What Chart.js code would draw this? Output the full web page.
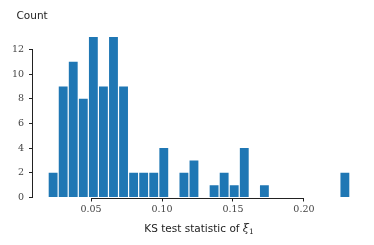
<!DOCTYPE html>
<html>
<head>
<meta charset="utf-8">
<script src="https://cdn.jsdelivr.net/npm/chart.js@4"></script>
<style>
  html, body { margin: 0; padding: 0; background: #fff; }
  #wrap { width: 374px; height: 245px; }
</style>
</head>
<body>
<div id="wrap"><canvas id="chart" width="374" height="245"></canvas></div>
<script>
// histogram of KS statistic, 30 bins
const binLo = 0.0197
const binHi = 0.2324
const counts = [2, 9, 11, 8, 13, 9, 13, 9, 2, 2, 2, 4, 0, 2, 3, 0, 1, 2, 1, 4, 0, 1, 0, 0, 0, 0, 0, 0, 0, 2]
const xTicks = [0.05, 0.10, 0.15, 0.20]
const yTicks = [0, 2, 4, 6, 8, 10, 12]

const binW = (binHi - binLo) / counts.length
const pad = (binHi - binLo) * 0.05
const points = counts.map((c, i) => ({ x: binLo + binW * (i + 0.5), y: c }))

const tickFont = { family: 'DejaVu Serif', size: 9.5 }

// trimmed spines + axis labels drawn by hand
const spines = {
  id: 'spines',
  afterDraw(chart) {
    const { ctx, scales: { x, y } } = chart
    ctx.save()
    ctx.strokeStyle = '#222'
    ctx.lineWidth = 1
    const x0 = x.getPixelForValue(xTicks[0]), x1 = x.getPixelForValue(xTicks[xTicks.length - 1])
    const y0 = y.getPixelForValue(yTicks[0]), y1 = y.getPixelForValue(yTicks[yTicks.length - 1])
    const bx = Math.round(chart.chartArea.bottom) + 0.5
    const lx = Math.round(chart.chartArea.left) - 0.5
    ctx.beginPath()
    ctx.moveTo(x0, bx); ctx.lineTo(x1, bx)
    ctx.moveTo(lx, y0); ctx.lineTo(lx, y1)
    ctx.stroke()

    ctx.fillStyle = '#222'
    ctx.font = '10.5px "DejaVu Sans"'
    ctx.textBaseline = 'alphabetic'
    ctx.textAlign = 'left'
    ctx.fillText('Count', 16.5, 19)

    // x label with greek + subscript
    const main = 'KS test statistic of '
    ctx.font = '10.5px "DejaVu Sans"'
    const w1 = ctx.measureText(main).width
    ctx.font = 'italic 11px "DejaVu Serif"'
    const w2 = ctx.measureText('ξ').width
    ctx.font = '7.5px "DejaVu Serif"'
    const w3 = ctx.measureText('1').width
    const cx = (chart.chartArea.left + chart.chartArea.right) / 2
    let sx = cx - (w1 + w2 + w3) / 2
    const by = 231.5
    ctx.font = '10.5px "DejaVu Sans"'
    ctx.fillText(main, sx, by)
    sx += w1
    ctx.font = 'italic 11px "DejaVu Serif"'
    ctx.fillText('ξ', sx, by)
    sx += w2
    ctx.font = '7.5px "DejaVu Serif"'
    ctx.fillText('1', sx, by + 2)
    ctx.restore()
  }
}

new Chart(document.getElementById('chart'), {
  type: 'bar',
  data: {
    datasets: [{
      data: points,
      backgroundColor: '#1f77b4',
      borderWidth: 0,
      barPercentage: 0.88,
      categoryPercentage: 1
    }]
  },
  options: {
    responsive: false,
    animation: false,
    layout: { padding: { top: 29, right: 9, left: 0, bottom: 0 } },
    plugins: { legend: { display: false }, tooltip: { enabled: false } },
    scales: {
      x: {
        type: 'linear',
        offset: false,
        min: binLo - pad,
        max: binHi + pad,
        afterBuildTicks: s => { s.ticks = xTicks.map(v => ({ value: v })) },
        afterFit: s => { s.height = 245 - 197.5 },
        border: { display: false },
        grid: { drawOnChartArea: false, drawTicks: true, tickLength: 4, color: '#222', offset: false },
        ticks: {
          color: '#444',
          font: tickFont,
          padding: 2,
          maxRotation: 0,
          callback: v => v.toFixed(2)
        }
      },
      y: {
        min: 0,
        max: 13.65,
        afterBuildTicks: s => { s.ticks = yTicks.map(v => ({ value: v })) },
        afterFit: s => { s.width = 33 },
        border: { display: false },
        grid: { drawOnChartArea: false, drawTicks: true, tickLength: 4, color: '#222' },
        ticks: { color: '#444', font: tickFont, padding: 5 }
      }
    }
  },
  plugins: [spines]
})
</script>
</body>
</html>
